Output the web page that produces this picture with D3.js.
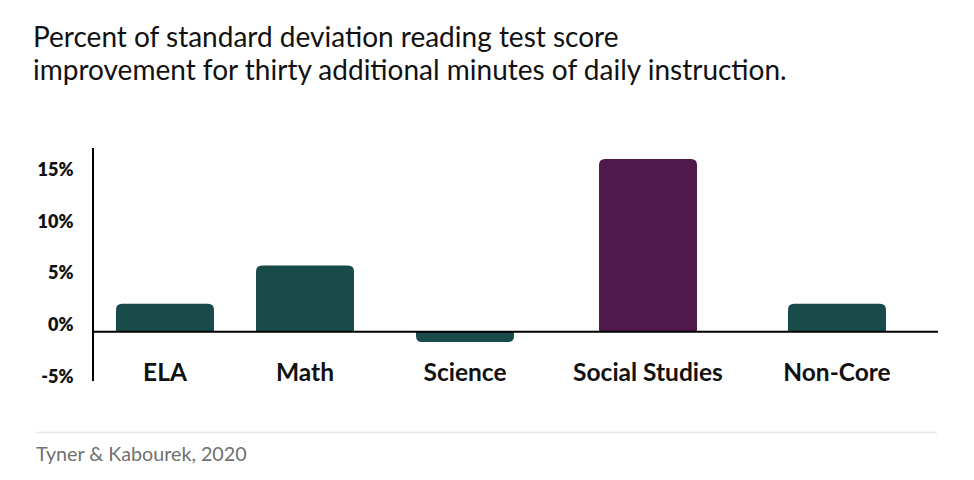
<!DOCTYPE html>
<html>
<head>
<meta charset="utf-8">
<script src="https://cdn.jsdelivr.net/npm/d3@7"></script>
<style>
  body { margin: 0; background: #fff; }
  svg { display: block; font-family: Lato, "Open Sans", sans-serif; }
</style>
</head>
<body>
<script>
// chart values
var categories = ["ELA", "Math", "Science", "Social Studies", "Non-Core"];
var scores = [2.7, 6.4, -1.0, 16.7, 2.7];
var highlight = ["Social Studies"];
var yTicks = [-5, 0, 5, 10, 15];
var titleLines = [
  "Percent of standard deviation reading test score",
  "improvement for thirty additional minutes of daily instruction."
];
var source = "Tyner & Kabourek, 2020";

var width = 974, height = 480;
var teal = "#174a48", purple = "#4f1a4b";

var svg = d3.select("body").append("svg")
    .attr("width", width)
    .attr("height", height);

// title
svg.append("g").selectAll("text")
    .data(titleLines)
  .enter().append("text")
    .attr("x", 33)
    .attr("y", function(d, i) { return 47 + i * 33; })
    .attr("font-size", 28)
    .attr("fill", "#111")
    .text(function(d) { return d; });

var y = d3.scaleLinear().domain([-5, 15]).range([383.5, 176.5]);

// columns are not evenly spaced in the original, so the ordinal scale
// maps each category to its slot centre
var x = d3.scaleOrdinal().domain(categories).range([165, 305, 465, 648, 837]);
var barW = 98, r = 6;

// rounded on the far end only
function barPath(d, i) {
  var cx = x(categories[i]), x0 = cx - barW / 2, x1 = cx + barW / 2;
  var y0 = y(0), y1 = y(d);
  var s = d >= 0 ? 1 : -1;
  var rr = Math.min(r, Math.abs(y0 - y1));
  return "M" + x0 + "," + y0 +
    "V" + (y1 + s * rr) +
    "Q" + x0 + "," + y1 + " " + (x0 + rr) + "," + y1 +
    "H" + (x1 - rr) +
    "Q" + x1 + "," + y1 + " " + x1 + "," + (y1 + s * rr) +
    "V" + y0 + "Z";
}

svg.append("g").selectAll("path")
    .data(scores)
  .enter().append("path")
    .attr("d", barPath)
    .attr("fill", function(d, i) {
      return highlight.indexOf(categories[i]) >= 0 ? purple : teal;
    });

// y axis: labels sit with their baseline on the tick
var yAxis = d3.axisLeft(y)
    .tickValues(yTicks)
    .tickSize(0)
    .tickPadding(0)
    .tickFormat(function(d) { return d + "%"; });

var gy = svg.append("g")
    .attr("transform", "translate(73.5,-1.2)")
    .call(yAxis);
gy.select(".domain").remove();
gy.selectAll("text")
    .attr("dy", null)
    .attr("font-family", "Lato, sans-serif")
    .attr("font-size", 18)
    .attr("font-weight", 800)
    .attr("fill", "#111");

svg.append("line")
    .attr("x1", 93).attr("x2", 93)
    .attr("y1", 148).attr("y2", 381)
    .attr("stroke", "#000")
    .attr("stroke-width", 2);

// zero line
svg.append("line")
    .attr("x1", 92).attr("x2", 938)
    .attr("y1", y(0)).attr("y2", y(0))
    .attr("stroke", "#000")
    .attr("stroke-width", 2);

// category labels
svg.append("g").selectAll("text")
    .data(categories)
  .enter().append("text")
    .attr("x", function(d) { return x(d); })
    .attr("y", 381)
    .attr("text-anchor", "middle")
    .attr("font-size", 24.5)
    .attr("font-weight", 700)
    .attr("fill", "#111")
    .text(function(d) { return d; });

// footer
svg.append("line")
    .attr("x1", 36).attr("x2", 937)
    .attr("y1", 432.5).attr("y2", 432.5)
    .attr("stroke", "#e8e8e8")
    .attr("stroke-width", 1.5);

svg.append("text")
    .attr("x", 36)
    .attr("y", 460.5)
    .attr("font-size", 19.7)
    .attr("fill", "#707070")
    .text(source);
</script>
</body>
</html>
